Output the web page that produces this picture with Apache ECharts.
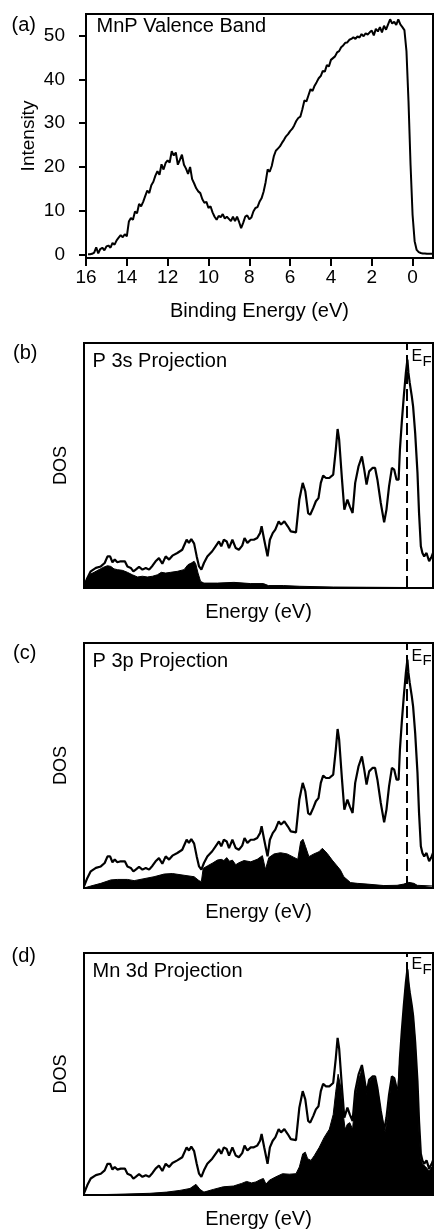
<!DOCTYPE html>
<html>
<head>
<meta charset="utf-8">
<script src="https://cdn.jsdelivr.net/npm/echarts@6/dist/echarts.min.js"></script>
<style>
html, body { margin: 0; padding: 0; background: #fff; }
#main { width: 434px; height: 1230px; }
</style>
</head>
<body>
<div id="main"></div>
<script>
// (a) valence band spectrum, binding energy (eV) / intensity
var vbE = [
  15.9, 15.8, 15.7, 15.6, 15.5, 15.4, 15.3, 15.2, 15.1, 15.0,
  14.9, 14.8, 14.7, 14.6, 14.5, 14.4, 14.3, 14.2, 14.1, 14.0,
  13.9, 13.8, 13.7, 13.6, 13.5, 13.4, 13.3, 13.2, 13.1, 13.0,
  12.9, 12.8, 12.7, 12.6, 12.5, 12.4, 12.3, 12.2, 12.1, 12.0,
  11.9, 11.8, 11.7, 11.6, 11.5, 11.4, 11.3, 11.2, 11.1, 11.0,
  10.9, 10.8, 10.7, 10.6, 10.5, 10.4, 10.3, 10.2, 10.1, 10.0,
  9.9, 9.8, 9.7, 9.6, 9.5, 9.4, 9.3, 9.2, 9.1, 9.0,
  8.9, 8.8, 8.7, 8.6, 8.5, 8.4, 8.3, 8.2, 8.1, 8.0,
  7.9, 7.8, 7.7, 7.6, 7.5, 7.4, 7.3, 7.2, 7.1, 7.0,
  6.9, 6.8, 6.7, 6.6, 6.5, 6.4, 6.3, 6.2, 6.1, 6.0,
  5.9, 5.8, 5.7, 5.6, 5.5, 5.4, 5.3, 5.2, 5.1, 5.0,
  4.9, 4.8, 4.7, 4.6, 4.5, 4.4, 4.3, 4.2, 4.1, 4.0,
  3.9, 3.8, 3.7, 3.6, 3.5, 3.4, 3.3, 3.2, 3.1, 3.0,
  2.9, 2.8, 2.7, 2.6, 2.5, 2.4, 2.3, 2.2, 2.1, 2.0,
  1.9, 1.8, 1.7, 1.6, 1.5, 1.4, 1.3, 1.2, 1.1, 1.0,
  0.9, 0.8, 0.7, 0.6, 0.5, 0.4, 0.3, 0.2, 0.1, 0.0,
  -0.1, -0.2, -0.3, -0.4, -0.5, -0.6, -0.7, -0.8, -0.9, -1.0
];
var vbI = [
  0.0, 0.0, 0.1, 0.4, 1.6, 0.2, 1.2, 1.5, 0.9, 1.8,
  2.0, 1.5, 2.6, 2.2, 3.2, 3.8, 4.4, 3.9, 4.6, 4.1,
  7.5, 8.3, 7.9, 9.8, 9.4, 11.5, 11.0, 12.0, 13.3, 14.6,
  14.0, 15.8, 16.6, 18.0, 19.0, 18.2, 20.6, 19.4, 20.9, 21.5,
  21.0, 23.6, 22.6, 23.3, 20.5, 21.6, 22.8, 20.5, 19.6, 18.4,
  20.0, 17.2, 16.2, 15.1, 14.4, 14.0, 12.6, 11.8, 12.0, 10.6,
  11.0, 9.6, 8.6, 7.9, 8.8, 8.5, 9.2, 8.2, 8.6, 8.1,
  7.6, 8.6, 7.6, 8.6, 7.4, 6.0, 7.2, 8.6, 8.9, 8.0,
  8.4, 9.8, 10.6, 10.8, 12.0, 12.8, 14.3, 16.5, 19.4, 18.9,
  20.2, 22.4, 23.7, 24.2, 24.7, 25.5, 26.2, 27.0, 27.5, 28.2,
  28.7, 29.5, 30.5, 31.2, 31.5, 33.2, 35.2, 35.0, 36.4, 37.8,
  37.4, 38.6, 39.4, 40.3, 40.8, 42.0, 41.8, 43.3, 43.0, 44.5,
  44.9, 45.3, 46.2, 46.5, 47.4, 47.8, 48.4, 48.5, 49.1, 49.3,
  49.7, 49.3, 49.9, 49.6, 50.4, 49.9, 50.6, 50.3, 50.8, 51.2,
  50.1, 51.6, 51.0, 52.0, 50.8, 52.3, 51.4, 52.6, 53.8, 52.8,
  53.2, 52.5, 53.8, 52.6, 52.0, 51.3, 46.5, 35.0, 20.5, 9.0,
  3.0, 1.0, 0.5, 0.3, 0.2, 0.2, 0.1, 0.1, 0.1, 0.1
];
var vbTicksX = [16, 14, 12, 10, 8, 6, 4, 2, 0];
var vbTicksY = [0, 10, 20, 30, 40, 50];

// total DOS (same curve in b, c, d), energy relative to E_F
var totalE = [
  -12.50, -12.37, -12.24, -12.04, -11.85, -11.70, -11.59, -11.49, -11.40, -11.31,
  -11.21, -11.08, -10.92, -10.82, -10.69, -10.59, -10.50, -10.37, -10.24, -10.11,
  -9.98, -9.85, -9.73, -9.60, -9.47, -9.34, -9.21, -9.08, -8.89, -8.70,
  -8.53, -8.44, -8.35, -8.24, -8.14, -8.05, -7.96, -7.86, -7.73, -7.54,
  -7.41, -7.28, -7.19, -7.09, -6.98, -6.89, -6.76, -6.63, -6.51, -6.38,
  -6.29, -6.18, -6.05, -5.93, -5.80, -5.69, -5.63, -5.53, -5.40, -5.31,
  -5.20, -5.10, -4.97, -4.88, -4.75, -4.62, -4.50, -4.30, -4.17, -4.04,
  -3.94, -3.83, -3.75, -3.63, -3.53, -3.43, -3.34, -3.25, -3.14, -3.01,
  -2.86, -2.76, -2.69, -2.63, -2.52, -2.43, -2.31, -2.22, -2.11, -2.01,
  -1.88, -1.75, -1.66, -1.57, -1.47, -1.34, -1.24, -1.15, -1.02, -0.89,
  -0.80, -0.70, -0.59, -0.50, -0.41, -0.33, -0.28, -0.21, -0.13, -0.05,
  0.01, 0.05, 0.10, 0.18, 0.23, 0.31, 0.40, 0.46, 0.53, 0.59,
  0.66, 0.75, 0.85, 0.95, 1.00
];
var totalD = [
  0.7, 4.1, 6.8, 8.2, 8.8, 10.2, 12.9, 12.9, 10.5, 11.6,
  10.5, 10.9, 10.9, 8.8, 8.2, 6.8, 7.5, 8.6, 7.5, 8.2,
  7.5, 9.1, 10.9, 12.2, 9.9, 12.9, 11.6, 13.2, 14.3, 15.6,
  19.7, 18.4, 20.0, 18.1, 12.9, 8.8, 7.5, 10.2, 12.9, 15.0,
  17.0, 19.0, 17.0, 19.7, 19.0, 16.3, 19.7, 16.3, 15.6, 17.3,
  20.4, 18.4, 19.7, 19.7, 20.4, 22.4, 25.2, 19.7, 12.9, 19.7,
  22.4, 23.8, 27.2, 25.9, 27.2, 25.2, 23.1, 22.7, 36.1, 42.9,
  39.5, 30.6, 29.9, 32.7, 35.4, 36.7, 42.9, 45.9, 44.9, 44.9,
  46.3, 56.5, 64.9, 60.5, 44.2, 32.0, 36.1, 33.3, 30.6, 42.9,
  49.7, 53.7, 48.3, 42.2, 47.6, 49.0, 49.0, 44.2, 34.7, 26.8,
  32.0, 41.5, 49.0, 48.3, 44.2, 44.2, 56.5, 67.3, 78.2, 87.8,
  93.2, 87.8, 83.7, 78.2, 74.1, 63.3, 46.9, 30.6, 17.0, 14.3,
  12.9, 14.3, 10.9, 12.9, 14.3
];

// (b) P 3s projection
var p3sE = [
  -12.50, -12.43, -12.30, -12.11, -11.92, -11.72, -11.59, -11.46, -11.34, -11.21,
  -11.01, -10.82, -10.63, -10.43, -10.24, -10.05, -9.85, -9.66, -9.51, -9.34,
  -9.15, -8.89, -8.63, -8.48, -8.35, -8.24, -8.18, -8.09, -7.99, -7.86,
  -7.34, -6.70, -6.05, -5.56, -5.37, -4.79, -4.15, -2.86, -1.57, 0.00, 1.00
];
var p3sD = [
  0, 2.7, 5.4, 6.4, 7.5, 8.6, 9.1, 8.8, 7.8, 7.5,
  7.2, 6.4, 5.4, 4.5, 4.8, 4.5, 4.8, 5.4, 6.4, 6.1,
  6.4, 6.8, 7.5, 9.5, 10.2, 10.9, 9.9, 6.1, 2.7, 2.0,
  2.0, 2.3, 1.8, 1.8, 1.0, 1.0, 0.7, 0.4, 0.3, 0.2, 0.2
];

// (c) P 3p projection
var p3pE = [
  -12.50, -12.24, -11.85, -11.46, -11.21, -10.82, -10.56, -10.18, -9.79, -9.40,
  -9.08, -8.63, -8.24, -8.05, -7.96, -7.89, -7.73, -7.54, -7.34, -7.19,
  -7.09, -6.98, -6.87, -6.76, -6.63, -6.51, -6.31, -6.05, -5.80, -5.60,
  -5.48, -5.35, -5.15, -4.90, -4.64, -4.38, -4.23, -4.12, -4.03, -3.93,
  -3.80, -3.61, -3.41, -3.28, -3.09, -2.90, -2.71, -2.58, -2.45, -2.19,
  -1.93, -1.55, -0.90, -0.39, -0.13, 0.06, 0.26, 0.39, 1.00
];
var p3pD = [
  0, 0.8, 1.9, 3.3, 3.5, 3.5, 3.0, 3.8, 4.6, 5.7,
  5.9, 5.2, 4.6, 3.0, 2.6, 8.0, 9.0, 10.1, 11.4, 11.7,
  11.2, 12.4, 10.9, 11.4, 9.5, 10.3, 11.2, 10.7, 11.7, 13.2,
  7.6, 12.4, 13.9, 14.4, 13.9, 12.5, 11.7, 18.9, 19.9, 16.9,
  12.8, 13.9, 14.8, 16.2, 14.1, 11.4, 9.0, 7.3, 4.6, 2.2,
  1.9, 1.6, 1.0, 1.1, 1.6, 2.3, 1.9, 1.1, 0.8
];

// (d) Mn 3d projection
var mn3dE = [
  -12.50, -11.23, -9.95, -9.30, -8.79, -8.40, -8.17, -8.01, -7.86, -7.50,
  -7.11, -6.72, -6.40, -6.21, -6.02, -5.85, -5.67, -5.56, -5.46, -5.33,
  -5.08, -4.82, -4.56, -4.30, -4.17, -4.04, -3.94, -3.85, -3.72, -3.59,
  -3.40, -3.21, -3.01, -2.86, -2.76, -2.67, -2.56, -2.47, -2.40, -2.31,
  -2.22, -2.11, -2.01, -1.88, -1.75, -1.66, -1.57, -1.47, -1.34, -1.24,
  -1.15, -1.02, -0.85, -0.76, -0.67, -0.57, -0.46, -0.37, -0.28, -0.18,
  -0.08, 0.01, 0.08, 0.14, 0.23, 0.31, 0.40, 0.46, 0.53, 0.59,
  0.72, 0.85, 1.00
];
var mn3dD = [
  0, 0.3, 0.7, 1.2, 1.9, 2.7, 4.4, 2.3, 1.2, 2.3,
  3.4, 3.7, 4.8, 5.6, 5.0, 5.4, 6.4, 6.8, 4.5, 6.1,
  7.5, 8.8, 8.6, 8.8, 11.6, 17.0, 17.7, 15.0, 14.3, 16.3,
  19.7, 23.8, 27.2, 33.3, 42.9, 49.9, 44.2, 33.3, 27.2, 29.3,
  29.9, 27.2, 40.1, 47.6, 51.7, 46.9, 41.5, 46.9, 48.6, 48.3,
  44.2, 34.7, 25.9, 32.0, 41.5, 49.0, 46.0, 42.9, 56.5, 70.1,
  83.7, 93.2, 85.5, 80.5, 74.1, 63.3, 44.2, 25.2, 15.0, 12.9,
  11.6, 10.0, 12.2
];

var FONT = '"Liberation Sans", Arial, sans-serif';

function pairs(xs, ys) {
  return xs.map(function (x, i) { return [x, ys[i]]; });
}

var chart = echarts.init(document.getElementById('main'), null, { renderer: 'canvas' });

var grids = [
  { left: 86, top: 14, width: 347, height: 244 },
  { left: 84, top: 343, width: 349, height: 245 },
  { left: 84, top: 643, width: 349, height: 245 },
  { left: 84, top: 953, width: 349, height: 245 }
];
grids.forEach(function (g) {
  g.show = true;
  g.borderColor = '#000';
  g.borderWidth = 2;
  g.backgroundColor = 'transparent';
});

var nameStyle = { color: '#000', fontSize: 20, fontFamily: FONT };

var xAxes = [{
  gridIndex: 0, type: 'value', inverse: true, min: -1, max: 16,
  axisLine: { show: true, onZero: false, lineStyle: { color: '#000', width: 2 } },
  axisTick: { show: true, customValues: vbTicksX, length: 8, lineStyle: { color: '#000', width: 2 } },
  axisLabel: { show: true, customValues: vbTicksX, margin: 10.5, color: '#000', fontSize: 19, fontFamily: FONT },
  splitLine: { show: false },
  name: 'Binding Energy (eV)', nameLocation: 'middle', nameGap: 43.5, nameTextStyle: nameStyle
}];
var yAxes = [{
  gridIndex: 0, type: 'value', min: -0.85, max: 55,
  axisLine: { show: true, onZero: false, lineStyle: { color: '#000', width: 2 } },
  axisTick: { show: true, customValues: vbTicksY, length: 7, lineStyle: { color: '#000', width: 2 } },
  axisLabel: { show: true, customValues: vbTicksY, margin: 21, color: '#000', fontSize: 19, fontFamily: FONT },
  splitLine: { show: false },
  name: 'Intensity', nameLocation: 'middle', nameGap: 48, nameRotate: 90, nameMoveOverlap: false,
  nameTextStyle: { color: '#000', fontSize: 19, fontFamily: FONT }
}];

for (var i = 1; i <= 3; i++) {
  xAxes.push({
    gridIndex: i, type: 'value', min: -12.5, max: 1,
    axisLine: { show: false }, axisTick: { show: false }, axisLabel: { show: false },
    splitLine: { show: false },
    name: 'Energy (eV)', nameLocation: 'middle', nameGap: 14, nameTextStyle: nameStyle
  });
  yAxes.push({
    gridIndex: i, type: 'value', min: 0, max: 100,
    axisLine: { show: false }, axisTick: { show: false }, axisLabel: { show: false },
    splitLine: { show: false },
    name: 'DOS', nameLocation: 'middle', nameGap: 13.5, nameRotate: 90,
    nameTextStyle: { color: '#000', fontSize: 18, fontFamily: FONT }
  });
}

var series = [{
  type: 'line', xAxisIndex: 0, yAxisIndex: 0,
  data: pairs(vbE, vbI),
  symbol: 'none', lineStyle: { color: '#000', width: 2 }
}];

var projections = [pairs(p3sE, p3sD), pairs(p3pE, p3pD), pairs(mn3dE, mn3dD)];
projections.forEach(function (proj, k) {
  var idx = k + 1;
  series.push({
    type: 'line', xAxisIndex: idx, yAxisIndex: idx, z: 3,
    data: proj, symbol: 'none',
    lineStyle: { color: '#000', width: 1 },
    areaStyle: { color: '#000', opacity: 1 }
  });
  series.push({
    type: 'line', xAxisIndex: idx, yAxisIndex: idx, z: 4,
    data: pairs(totalE, totalD), symbol: 'none',
    lineStyle: { color: '#000', width: 2.2 },
    markLine: {
      silent: true, symbol: 'none', label: { show: false },
      lineStyle: { color: '#000', width: 2, type: [12, 5] },
      data: [{ xAxis: 0 }]
    }
  });
});

function txt(s, x, y, size) {
  return {
    type: 'text', x: x, y: y, silent: true,
    style: { text: s, font: size + 'px ' + FONT, fill: '#000', textAlign: 'left', textVerticalAlign: 'middle' }
  };
}

var graphics = [
  txt('(a)', 11.5, 25, 20),
  txt('MnP Valence Band', 96.5, 26.8, 20),
  txt('(b)', 13, 353.5, 20),
  txt('P 3s Projection', 92.5, 361.3, 20),
  txt('(c)', 13, 653.5, 20),
  txt('P 3p Projection', 92.5, 661.5, 20),
  txt('(d)', 11.5, 956, 20),
  txt('Mn 3d Projection', 92.5, 971.8, 20)
];
// E_F labels next to the dashed Fermi line
[[357, 361.7], [656.7, 661.3], [964.7, 970.3]].forEach(function (p) {
  graphics.push(txt('E', 411.5, p[0], 16));
  graphics.push(txt('F', 422.5, p[1], 15));
});

chart.setOption({
  animation: false,
  grid: grids,
  xAxis: xAxes,
  yAxis: yAxes,
  series: series,
  graphic: graphics
});
</script>
</body>
</html>
